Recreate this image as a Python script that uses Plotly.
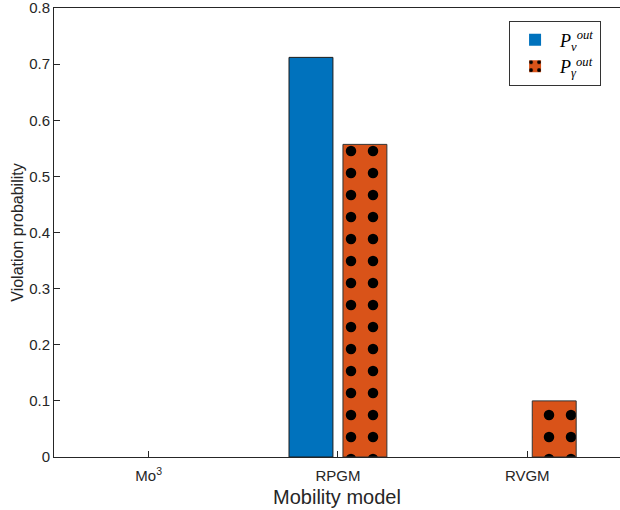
import plotly.graph_objects as go

# Mobility models and violation probabilities
models = ["Mo<sup>3</sup>", "RPGM", "RVGM"]
p_v_out = [0.0, 0.712, 0.0]
p_gamma_out = [0.0, 0.557, 0.100]
y_ticks = [0, 0.1, 0.2, 0.3, 0.4, 0.5, 0.6, 0.7, 0.8]
y_tick_labels = ["0", "0.1", "0.2", "0.3", "0.4", "0.5", "0.6", "0.7", "0.8"]

BLUE = "#0072BD"
ORANGE = "#D95319"
AXIS = "#262626"


def edge_widths(values, w=1):
    # zero-height bars get no outline so they stay invisible
    return [w if v > 0 else 0 for v in values]


fig = go.Figure()
fig.add_trace(go.Bar(
    x=models, y=p_v_out,
    name="<i>P</i><sub><i>v</i></sub><sup><i>out</i></sup>",
    marker=dict(color=BLUE, line=dict(color="#1a1a1a", width=edge_widths(p_v_out))),
))
fig.add_trace(go.Bar(
    x=models, y=p_gamma_out,
    name="<i>P</i><sub><i>γ</i></sub><sup><i>out</i></sup>",
    marker=dict(
        color=ORANGE,
        line=dict(color="#333333", width=edge_widths(p_gamma_out)),
        pattern=dict(shape=".", size=22, solidity=0.18,
                     fgcolor="black", fgopacity=1, bgcolor=ORANGE,
                     fillmode="overlay"),
    ),
))

fig.update_layout(
    width=620, height=510,
    margin=dict(l=54, r=0, t=8, b=53),
    paper_bgcolor="white", plot_bgcolor="white",
    barmode="group", bargap=0.43, bargroupgap=0.186,
    font=dict(family="Liberation Sans, Arial, sans-serif", color=AXIS, size=15),
    showlegend=True,
    legend=dict(
        x=0.804, y=0.972, xanchor="left", yanchor="top",
        bgcolor="white", bordercolor="#333333", borderwidth=1,
        font=dict(family="Liberation Serif, serif", size=18, color="black"),
        tracegroupgap=0, itemwidth=40,
    ),
)

fig.update_xaxes(
    type="category", range=[-0.5, 2.49],
    showline=True, linecolor=AXIS, linewidth=1, mirror=True,
    ticks="inside", ticklen=6, tickcolor=AXIS,
    showgrid=False, zeroline=False,
    tickfont=dict(size=15, color=AXIS), ticklabelstandoff=5,
    title=dict(text="Mobility model", font=dict(size=20, color=AXIS), standoff=6),
)
fig.update_yaxes(
    range=[0, 0.8],
    tickvals=y_ticks, ticktext=y_tick_labels,
    showline=True, linecolor=AXIS, linewidth=1,
    ticks="inside", ticklen=6, tickcolor=AXIS,
    showgrid=False, zeroline=False,
    tickfont=dict(size=15, color=AXIS), ticklabeloverflow="allow",
    title=dict(text="Violation probability", font=dict(size=16, color=AXIS), standoff=1),
)

fig.write_html("out.html")
